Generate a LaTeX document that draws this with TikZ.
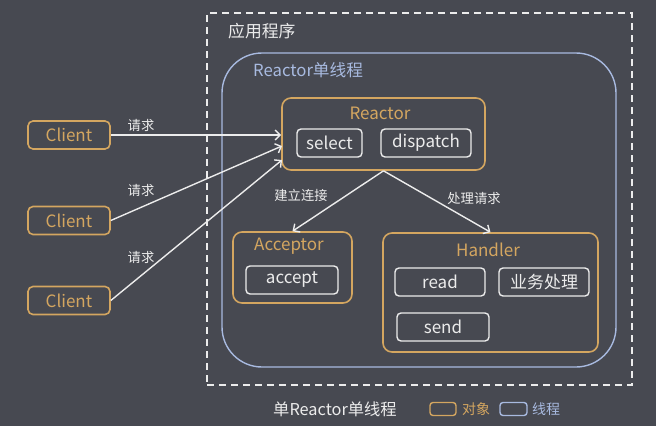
\documentclass[tikz,border=0pt]{standalone}
\usepackage{fontspec}
\setmainfont{Noto Sans CJK SC}
\usetikzlibrary{arrows.meta}
\definecolor{bgdark}{RGB}{71,73,81}
\definecolor{objorange}{RGB}{212,166,96}
\definecolor{thrblue}{RGB}{168,186,224}
\definecolor{txtwhite}{RGB}{236,236,236}
\newcommand{\fsz}[1]{\fontsize{#1}{#1}\selectfont}
\tikzset{
  objframe/.style  = {draw=objorange, line width=1.6pt, rounded corners=9pt},
  opbox/.style     = {draw=txtwhite, line width=1.4pt, rounded corners=4pt, text=txtwhite,
                      minimum height=28pt, inner sep=0pt, font=\fsz{17}},
  clientbox/.style = {draw=objorange, line width=1.6pt, rounded corners=5pt, text=objorange,
                      minimum width=82pt, minimum height=28pt, inner sep=0pt, font=\fsz{17}},
  objtitle/.style  = {text=objorange, font=\fsz{17}, inner sep=0pt},
  reqarr/.style    = {-{Straight Barb[length=5pt,width=10pt]}, txtwhite, line width=1.4pt},
  smalllbl/.style  = {text=txtwhite, font=\fsz{13.3}, inner sep=0pt}
}

\begin{document}
\begin{tikzpicture}[x=1pt, y=-1pt]
  \fill[bgdark] (0,0) rectangle (656,426);
  \useasboundingbox (0,0) rectangle (656,426);
  % containers
  \node[draw=txtwhite, line width=1.6pt, dash pattern=on 7pt off 5pt, minimum width=425pt,
        minimum height=372pt, inner sep=0pt] (app) at (419.5,199) {};
  \node[anchor=west, text=txtwhite, font=\fsz{16.8}, inner sep=0pt] (applbl) at (228,31) {应用程序};
  \node[draw=thrblue, line width=1.4pt, rounded corners=40pt, minimum width=394pt,
        minimum height=314pt, inner sep=0pt] (thread) at (419,210) {};
  \node[anchor=west, text=thrblue, font=\fsz{16.7}, inner sep=0pt] (thrlbl) at (253,70) {Reactor单线程};
  % reactor
  \node[objframe, minimum width=203pt, minimum height=72pt, inner sep=0pt] (reactor) at (383.5,134) {};
  \node[objtitle] (reactorlbl) at (380,113) {Reactor};
  \node[opbox, minimum width=65pt] (select) at (329.5,143) {select};
  \node[opbox, minimum width=90pt] (dispatch) at (426,143) {dispatch};
  % acceptor
  \node[objframe, minimum width=119pt, minimum height=71pt, inner sep=0pt] (acceptor) at (292.5,267.5) {};
  \node[objtitle] (acceptorlbl) at (289,246) {Acceptor};
  \node[opbox, minimum width=92pt] (accept) at (292,280) {accept};
  % handler
  \node[objframe, minimum width=215pt, minimum height=119pt, inner sep=0pt] (handler) at (490.5,292.5) {};
  \node[objtitle] (handlerlbl) at (488,250) {Handler};
  \node[opbox, minimum width=90pt] (read) at (440,282) {read};
  \node[opbox, minimum width=90pt] (biz) at (544,282) {业务处理};
  \node[opbox, minimum width=92pt] (send) at (443,327) {send};
  % clients
  \node[clientbox] (client1) at (69,135) {Client};
  \node[clientbox] (client2) at (69,220.5) {Client};
  \node[clientbox] (client3) at (69,300.5) {Client};
  \coordinate (rin2) at (282,146);
  \coordinate (rin3) at (282,160);
  \draw[reqarr] (client1.east) -- (client1.east -| reactor.west);
  \draw[reqarr] (client2.east) -- (rin2);
  \draw[reqarr] (client3.east) -- (rin3);
  \node[smalllbl] (req1) at (141,125) {请求};
  \node[smalllbl] (req2) at (141,190) {请求};
  \node[smalllbl] (req3) at (141,257) {请求};
  \draw[reqarr] (reactor.south) -- (acceptor.north);
  \draw[reqarr] (reactor.south) -- (handler.north);
  \node[smalllbl] (connlbl) at (301,195) {建立连接};
  \node[smalllbl] (proclbl) at (474,198) {处理请求};
  % legend
  \node[text=txtwhite, font=\fsz{16.3}, inner sep=0pt] (caption) at (335,409) {单Reactor单线程};
  \node[draw=objorange, line width=1.4pt, rounded corners=3pt, minimum width=26pt,
        minimum height=13pt, inner sep=0pt] (legobj) at (443,409) {};
  \node[anchor=west, text=objorange, font=\fsz{14}, inner sep=0pt] (legobjlbl) at (462,409) {对象};
  \node[draw=thrblue, line width=1.4pt, rounded corners=3pt, minimum width=27pt,
        minimum height=13pt, inner sep=0pt] (legthr) at (513.5,409) {};
  \node[anchor=west, text=thrblue, font=\fsz{14}, inner sep=0pt] (legthrlbl) at (532,409) {线程};
\end{tikzpicture}
\end{document}
